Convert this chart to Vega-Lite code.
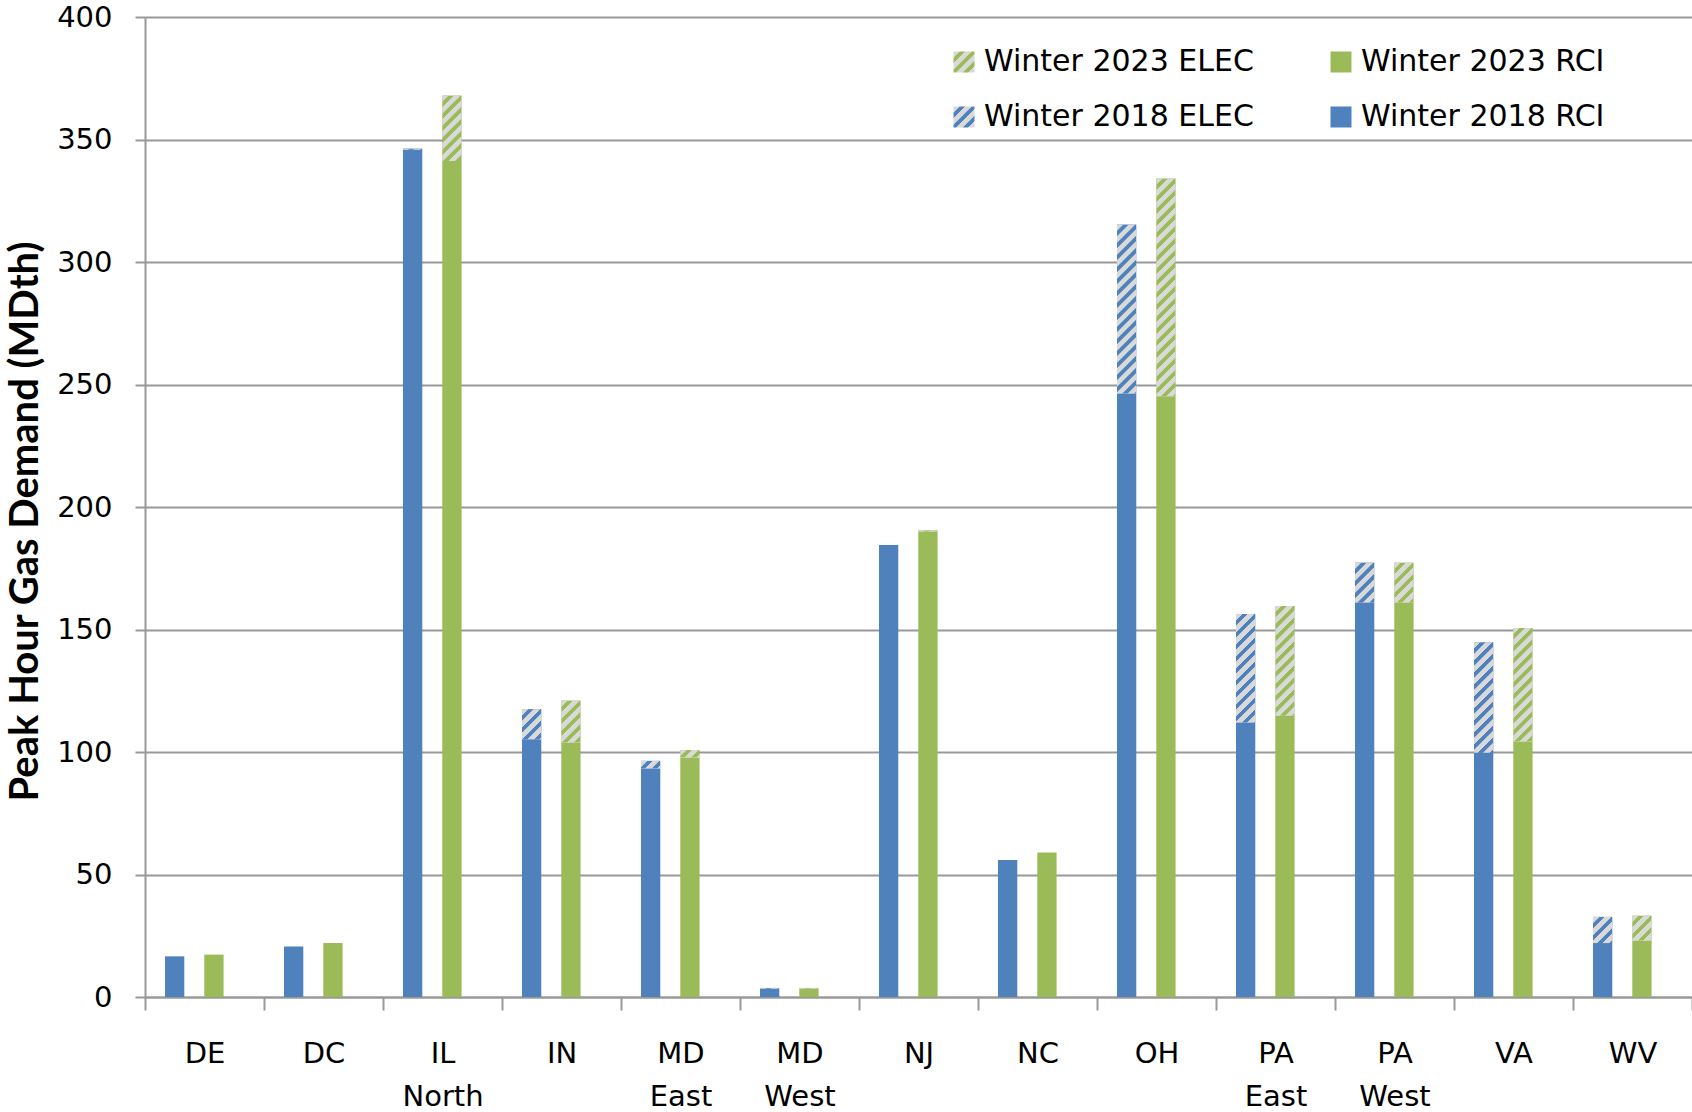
{
  "$schema": "https://vega.github.io/schema/vega-lite/v6.json",
  "autosize": {"type": "none"},
  "padding": {"left": 145, "top": 17, "right": 0, "bottom": 115},
  "width": 1547,
  "height": 980,
  "background": "white",
  "config": {
    "view": {"stroke": null},
    "axis": {
      "domainColor": "#999999", "domainWidth": 2,
      "tickColor": "#999999", "tickWidth": 2,
      "gridColor": "#999999", "gridWidth": 2,
      "labelColor": "black", "labelFont": "DejaVu Sans"
    }
  },
  "data": {"values": [
    {"region": "DE", "year": "2018", "kind": "RCI", "series": "Winter 2018 RCI", "value": 16.6},
    {"region": "DE", "year": "2023", "kind": "RCI", "series": "Winter 2023 RCI", "value": 17.3},
    {"region": "DC", "year": "2018", "kind": "RCI", "series": "Winter 2018 RCI", "value": 20.6},
    {"region": "DC", "year": "2023", "kind": "RCI", "series": "Winter 2023 RCI", "value": 22.0},
    {"region": "IL North", "year": "2018", "kind": "RCI", "series": "Winter 2018 RCI", "value": 345.8},
    {"region": "IL North", "year": "2018", "kind": "ELEC", "series": "Winter 2018 ELEC", "value": 0.5},
    {"region": "IL North", "year": "2023", "kind": "RCI", "series": "Winter 2023 RCI", "value": 341.2},
    {"region": "IL North", "year": "2023", "kind": "ELEC", "series": "Winter 2023 ELEC", "value": 26.8},
    {"region": "IN", "year": "2018", "kind": "RCI", "series": "Winter 2018 RCI", "value": 105.2},
    {"region": "IN", "year": "2018", "kind": "ELEC", "series": "Winter 2018 ELEC", "value": 12.3},
    {"region": "IN", "year": "2023", "kind": "RCI", "series": "Winter 2023 RCI", "value": 103.9},
    {"region": "IN", "year": "2023", "kind": "ELEC", "series": "Winter 2023 ELEC", "value": 17.1},
    {"region": "MD East", "year": "2018", "kind": "RCI", "series": "Winter 2018 RCI", "value": 93.3},
    {"region": "MD East", "year": "2018", "kind": "ELEC", "series": "Winter 2018 ELEC", "value": 3.1},
    {"region": "MD East", "year": "2023", "kind": "RCI", "series": "Winter 2023 RCI", "value": 97.7},
    {"region": "MD East", "year": "2023", "kind": "ELEC", "series": "Winter 2023 ELEC", "value": 3.1},
    {"region": "MD West", "year": "2018", "kind": "RCI", "series": "Winter 2018 RCI", "value": 3.4},
    {"region": "MD West", "year": "2018", "kind": "ELEC", "series": "Winter 2018 ELEC", "value": 0.3},
    {"region": "MD West", "year": "2023", "kind": "RCI", "series": "Winter 2023 RCI", "value": 3.4},
    {"region": "MD West", "year": "2023", "kind": "ELEC", "series": "Winter 2023 ELEC", "value": 0.3},
    {"region": "NJ", "year": "2018", "kind": "RCI", "series": "Winter 2018 RCI", "value": 184.5},
    {"region": "NJ", "year": "2023", "kind": "RCI", "series": "Winter 2023 RCI", "value": 190.0},
    {"region": "NJ", "year": "2023", "kind": "ELEC", "series": "Winter 2023 ELEC", "value": 0.5},
    {"region": "NC", "year": "2018", "kind": "RCI", "series": "Winter 2018 RCI", "value": 55.9},
    {"region": "NC", "year": "2023", "kind": "RCI", "series": "Winter 2023 RCI", "value": 59.0},
    {"region": "OH", "year": "2018", "kind": "RCI", "series": "Winter 2018 RCI", "value": 246.3},
    {"region": "OH", "year": "2018", "kind": "ELEC", "series": "Winter 2018 ELEC", "value": 69.0},
    {"region": "OH", "year": "2023", "kind": "RCI", "series": "Winter 2023 RCI", "value": 245.2},
    {"region": "OH", "year": "2023", "kind": "ELEC", "series": "Winter 2023 ELEC", "value": 88.9},
    {"region": "PA East", "year": "2018", "kind": "RCI", "series": "Winter 2018 RCI", "value": 112.0},
    {"region": "PA East", "year": "2018", "kind": "ELEC", "series": "Winter 2018 ELEC", "value": 44.3},
    {"region": "PA East", "year": "2023", "kind": "RCI", "series": "Winter 2023 RCI", "value": 114.8},
    {"region": "PA East", "year": "2023", "kind": "ELEC", "series": "Winter 2023 ELEC", "value": 44.8},
    {"region": "PA West", "year": "2018", "kind": "RCI", "series": "Winter 2018 RCI", "value": 161.0},
    {"region": "PA West", "year": "2018", "kind": "ELEC", "series": "Winter 2018 ELEC", "value": 16.3},
    {"region": "PA West", "year": "2023", "kind": "RCI", "series": "Winter 2023 RCI", "value": 161.0},
    {"region": "PA West", "year": "2023", "kind": "ELEC", "series": "Winter 2023 ELEC", "value": 16.3},
    {"region": "VA", "year": "2018", "kind": "RCI", "series": "Winter 2018 RCI", "value": 99.7},
    {"region": "VA", "year": "2018", "kind": "ELEC", "series": "Winter 2018 ELEC", "value": 45.1},
    {"region": "VA", "year": "2023", "kind": "RCI", "series": "Winter 2023 RCI", "value": 104.3},
    {"region": "VA", "year": "2023", "kind": "ELEC", "series": "Winter 2023 ELEC", "value": 46.3},
    {"region": "WV", "year": "2018", "kind": "RCI", "series": "Winter 2018 RCI", "value": 22.0},
    {"region": "WV", "year": "2018", "kind": "ELEC", "series": "Winter 2018 ELEC", "value": 10.7},
    {"region": "WV", "year": "2023", "kind": "RCI", "series": "Winter 2023 RCI", "value": 23.0},
    {"region": "WV", "year": "2023", "kind": "ELEC", "series": "Winter 2023 ELEC", "value": 10.2}
  ]},
  "encoding": {
    "x": {
      "field": "region", "type": "nominal",
      "scale": {"domain": ["DE", "DC", "IL North", "IN", "MD East", "MD West", "NJ", "NC", "OH", "PA East", "PA West", "VA", "WV"], "paddingInner": 0, "paddingOuter": 0},
      "axis": {
        "title": null, "labelAngle": 0, "tickBand": "extent", "tickSize": 13,
        "labelFontSize": 29, "labelPadding": 29, "labelLineHeight": 43,
        "labelExpr": "split(datum.label, ' ')", "labelBaseline": "top"
      }
    },
    "xOffset": {
      "field": "year", "type": "nominal",
      "scale": {"domain": ["2018", "2023"], "paddingInner": 0.509, "paddingOuter": 0.7685, "align": 0.331}
    },
    "y": {
      "field": "value", "type": "quantitative", "stack": "zero",
      "scale": {"domain": [0, 400], "nice": false},
      "axis": {
        "values": [0, 50, 100, 150, 200, 250, 300, 350, 400],
        "grid": true, "tickSize": 10, "labelFontSize": 29, "labelPadding": 23,
        "title": "Peak Hour Gas Demand (MDth)",
        "titleFont": "Lato",
        "titleFontSize": 40, "titleFontWeight": "bold", "titleColor": "black",
        "titleX": -120, "titleY": 504, "titleAngle": -90, "titleBaseline": "middle", "titleAlign": "center"
      }
    },
    "order": {"field": "kind", "sort": "descending"}
  },
  "layer": [
    {
      "mark": {"type": "bar"},
      "encoding": {
        "color": {
          "field": "series", "type": "nominal",
          "scale": {
            "domain": ["Winter 2018 RCI", "Winter 2018 ELEC", "Winter 2023 RCI", "Winter 2023 ELEC"],
            "range": ["#4F81BD", "#4F81BD", "#9BBB59", "#9BBB59"]
          },
          "legend": null
        }
      }
    },
    {
      "mark": {"type": "bar", "fill": {"expr": "datum.kind == 'ELEC' ? {gradient: 'linear', x1: 0, y1: 0, x2: 240*19.3/(372.5 + pow(datum.value*2.45, 2)), y2: 240*datum.value*2.45/(372.5 + pow(datum.value*2.45, 2)), stops: [{offset:0,color:'#d9d9d9'},{offset:0.025,color:'#d9d9d9'},{offset:0.028,color:'rgba(217,217,217,0)'},{offset:0.047,color:'rgba(217,217,217,0)'},{offset:0.05,color:'#d9d9d9'},{offset:0.075,color:'#d9d9d9'},{offset:0.078,color:'rgba(217,217,217,0)'},{offset:0.097,color:'rgba(217,217,217,0)'},{offset:0.1,color:'#d9d9d9'},{offset:0.125,color:'#d9d9d9'},{offset:0.128,color:'rgba(217,217,217,0)'},{offset:0.147,color:'rgba(217,217,217,0)'},{offset:0.15,color:'#d9d9d9'},{offset:0.175,color:'#d9d9d9'},{offset:0.178,color:'rgba(217,217,217,0)'},{offset:0.197,color:'rgba(217,217,217,0)'},{offset:0.2,color:'#d9d9d9'},{offset:0.225,color:'#d9d9d9'},{offset:0.228,color:'rgba(217,217,217,0)'},{offset:0.247,color:'rgba(217,217,217,0)'},{offset:0.25,color:'#d9d9d9'},{offset:0.275,color:'#d9d9d9'},{offset:0.278,color:'rgba(217,217,217,0)'},{offset:0.297,color:'rgba(217,217,217,0)'},{offset:0.3,color:'#d9d9d9'},{offset:0.325,color:'#d9d9d9'},{offset:0.328,color:'rgba(217,217,217,0)'},{offset:0.347,color:'rgba(217,217,217,0)'},{offset:0.35,color:'#d9d9d9'},{offset:0.375,color:'#d9d9d9'},{offset:0.378,color:'rgba(217,217,217,0)'},{offset:0.397,color:'rgba(217,217,217,0)'},{offset:0.4,color:'#d9d9d9'},{offset:0.425,color:'#d9d9d9'},{offset:0.428,color:'rgba(217,217,217,0)'},{offset:0.447,color:'rgba(217,217,217,0)'},{offset:0.45,color:'#d9d9d9'},{offset:0.475,color:'#d9d9d9'},{offset:0.478,color:'rgba(217,217,217,0)'},{offset:0.497,color:'rgba(217,217,217,0)'},{offset:0.5,color:'#d9d9d9'},{offset:0.525,color:'#d9d9d9'},{offset:0.528,color:'rgba(217,217,217,0)'},{offset:0.547,color:'rgba(217,217,217,0)'},{offset:0.55,color:'#d9d9d9'},{offset:0.575,color:'#d9d9d9'},{offset:0.578,color:'rgba(217,217,217,0)'},{offset:0.597,color:'rgba(217,217,217,0)'},{offset:0.6,color:'#d9d9d9'},{offset:0.625,color:'#d9d9d9'},{offset:0.628,color:'rgba(217,217,217,0)'},{offset:0.647,color:'rgba(217,217,217,0)'},{offset:0.65,color:'#d9d9d9'},{offset:0.675,color:'#d9d9d9'},{offset:0.678,color:'rgba(217,217,217,0)'},{offset:0.697,color:'rgba(217,217,217,0)'},{offset:0.7,color:'#d9d9d9'},{offset:0.725,color:'#d9d9d9'},{offset:0.728,color:'rgba(217,217,217,0)'},{offset:0.747,color:'rgba(217,217,217,0)'},{offset:0.75,color:'#d9d9d9'},{offset:0.775,color:'#d9d9d9'},{offset:0.778,color:'rgba(217,217,217,0)'},{offset:0.797,color:'rgba(217,217,217,0)'},{offset:0.8,color:'#d9d9d9'},{offset:0.825,color:'#d9d9d9'},{offset:0.828,color:'rgba(217,217,217,0)'},{offset:0.847,color:'rgba(217,217,217,0)'},{offset:0.85,color:'#d9d9d9'},{offset:0.875,color:'#d9d9d9'},{offset:0.878,color:'rgba(217,217,217,0)'},{offset:0.897,color:'rgba(217,217,217,0)'},{offset:0.9,color:'#d9d9d9'},{offset:0.925,color:'#d9d9d9'},{offset:0.928,color:'rgba(217,217,217,0)'},{offset:0.947,color:'rgba(217,217,217,0)'},{offset:0.95,color:'#d9d9d9'},{offset:0.975,color:'#d9d9d9'},{offset:0.978,color:'rgba(217,217,217,0)'},{offset:0.997,color:'rgba(217,217,217,0)'}]} : 'transparent'"}},
      "encoding": {
        "detail": {"field": "kind", "type": "nominal"}
      }
    },
    {
      "transform": [{"filter": "false"}],
      "mark": {"type": "square", "size": 441, "filled": true, "opacity": 1},
      "encoding": {
        "fill": {
          "field": "series", "type": "nominal",
          "scale": {
            "domain": ["Winter 2023 ELEC", "Winter 2018 ELEC", "Winter 2023 RCI", "Winter 2018 RCI"],
            "range": [
              {"expr": "{gradient: 'linear', x1: 0, y1: 0, x2: 1, y2: 1, stops: [{offset: 0, color: '#d9d9d9'}, {offset: 0.14, color: '#d9d9d9'}, {offset: 0.15, color: '#9BBB59'}, {offset: 0.276, color: '#9BBB59'}, {offset: 0.286, color: '#d9d9d9'}, {offset: 0.426, color: '#d9d9d9'}, {offset: 0.436, color: '#9BBB59'}, {offset: 0.562, color: '#9BBB59'}, {offset: 0.572, color: '#d9d9d9'}, {offset: 0.712, color: '#d9d9d9'}, {offset: 0.722, color: '#9BBB59'}, {offset: 0.848, color: '#9BBB59'}, {offset: 0.858, color: '#d9d9d9'}, {offset: 1, color: '#d9d9d9'}]}"},
              {"expr": "{gradient: 'linear', x1: 0, y1: 0, x2: 1, y2: 1, stops: [{offset: 0, color: '#d9d9d9'}, {offset: 0.14, color: '#d9d9d9'}, {offset: 0.15, color: '#4F81BD'}, {offset: 0.276, color: '#4F81BD'}, {offset: 0.286, color: '#d9d9d9'}, {offset: 0.426, color: '#d9d9d9'}, {offset: 0.436, color: '#4F81BD'}, {offset: 0.562, color: '#4F81BD'}, {offset: 0.572, color: '#d9d9d9'}, {offset: 0.712, color: '#d9d9d9'}, {offset: 0.722, color: '#4F81BD'}, {offset: 0.848, color: '#4F81BD'}, {offset: 0.858, color: '#d9d9d9'}, {offset: 1, color: '#d9d9d9'}]}"},
              "#9BBB59",
              "#4F81BD"
            ]
          },
          "legend": {
            "title": null, "orient": "none", "legendX": 804, "legendY": 30,
            "columns": 2, "padding": 0, "symbolType": "square", "symbolSize": 441,
            "symbolStrokeWidth": 0, "symbolOpacity": 1, "labelFont": "DejaVu Sans", "labelFontSize": 30,
            "labelColor": "black", "labelOffset": 5, "columnPadding": 72, "rowPadding": 25,
            "labelLimit": 500
          }
        }
      }
    }
  ]
}
